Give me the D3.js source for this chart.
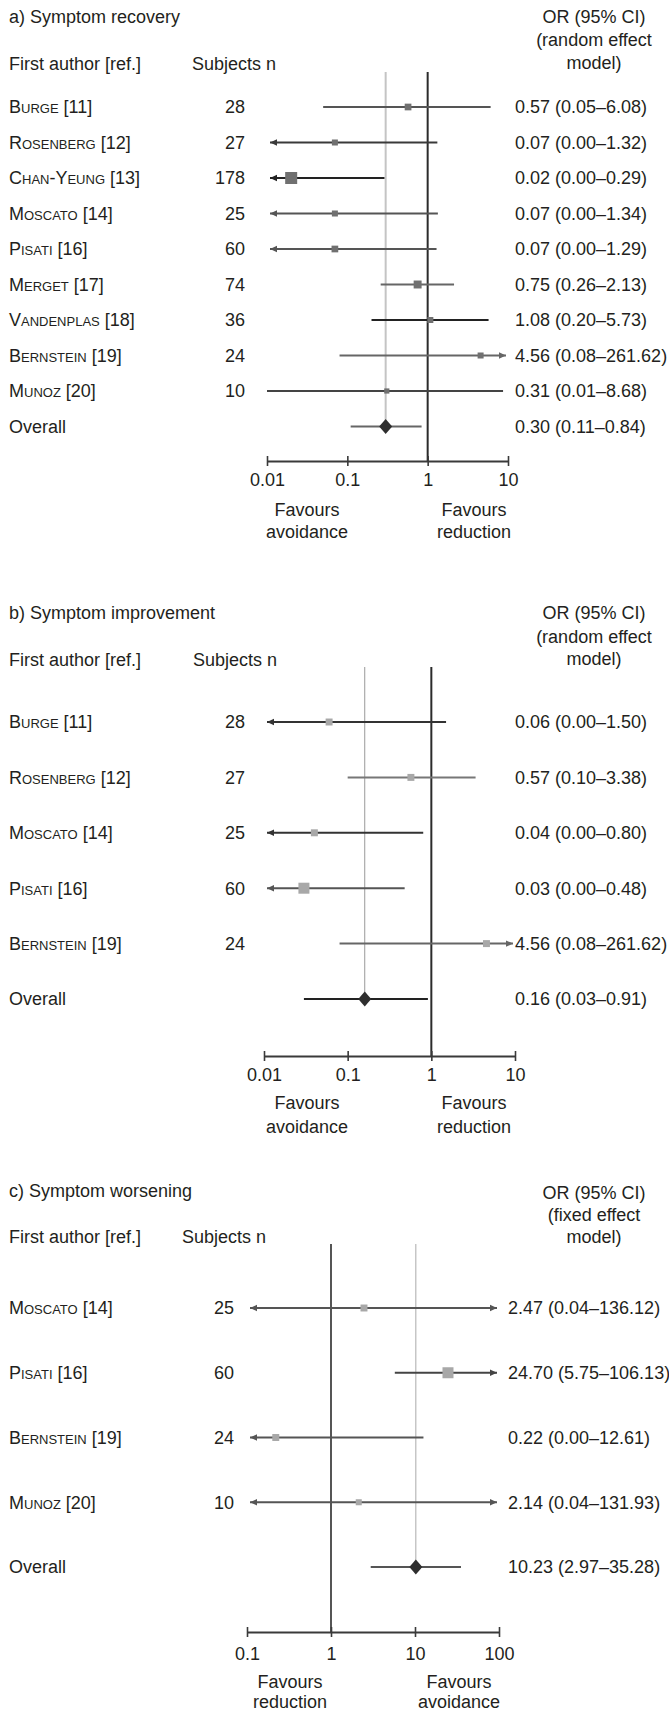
<!DOCTYPE html>
<html><head><meta charset="utf-8">
<script src="https://cdn.jsdelivr.net/npm/d3@7"></script>
<style>
body{margin:0;background:#fff}
svg text{font-family:"Liberation Sans",Arial,Helvetica,sans-serif;font-size:18px;fill:#231f20}
.sc{font-variant:small-caps}
</style></head><body>
<svg id="chart" width="669" height="1713"></svg>
<script>
// ---------- DATA ----------
// a) Symptom recovery
const authorsA = ["Burge","Rosenberg","Chan-Yeung","Moscato","Pisati","Merget","Vandenplas","Bernstein","Munoz"];
const refsA    = [11,12,13,14,16,17,18,19,20];
const subjectsA = [28,27,178,25,60,74,36,24,10];
const orA  = [0.57,0.07,0.02,0.07,0.07,0.75,1.08,4.56,0.31];
const loA  = [0.05,0.00,0.00,0.00,0.00,0.26,0.20,0.08,0.01];
const hiA  = [6.08,1.32,0.29,1.34,1.29,2.13,5.73,261.62,8.68];
const weightA = [5,4,16,4,5,7,4,4,3];
const overallA = {or:0.30, lo:0.11, hi:0.84};
const ticksA = [0.01,0.1,1,10];
const tickLabelsA = ["0.01","0.1","1","10"];

// b) Symptom improvement
const authorsB = ["Burge","Rosenberg","Moscato","Pisati","Bernstein"];
const refsB    = [11,12,14,16,19];
const subjectsB = [28,27,25,60,24];
const orB  = [0.06,0.57,0.04,0.03,4.56];
const loB  = [0.00,0.10,0.00,0.00,0.08];
const hiB  = [1.50,3.38,0.80,0.48,261.62];
const weightB = [20,20,20,50,20];
const overallB = {or:0.16, lo:0.03, hi:0.91};
const ticksB = [0.01,0.1,1,10];
const tickLabelsB = ["0.01","0.1","1","10"];

// c) Symptom worsening
const authorsC = ["Moscato","Pisati","Bernstein","Munoz"];
const refsC    = [14,16,19,20];
const subjectsC = [25,60,24,10];
const orC  = [2.47,24.70,0.22,2.14];
const loC  = [0.04,5.75,0.00,0.04];
const hiC  = [136.12,106.13,12.61,131.93];
const weightC = [20,50,20,15];
const overallC = {or:10.23, lo:2.97, hi:35.28};
const ticksC = [0.1,1,10,100];
const tickLabelsC = ["0.1","1","10","100"];

// ---------- PANELS ----------
const panels = [
  {
    data:{authors:authorsA, refs:refsA, n:subjectsA, or:orA, lo:loA, hi:hiA, w:weightA, overall:overallA, ticks:ticksA, tickLabels:tickLabelsA},
    title:"a) Symptom recovery",
    header:["OR (95% CI)","(random effect","model)"],
    favL:["Favours","avoidance"], favR:["Favours","reduction"],
    L:{x0:267,x1:508,yFirst:107,yLast:426.5,titleY:17,headY:[17,40,63],colY:64,subjX:192,nX:245,rX:515,headX:594,
       vTop:72,axisY:461,tickLabelY:480,favY:[510,532],favLX:307,favRX:474,maxSq:12,
       sqFill:"#707070",refStroke:"#c4c4c4",refWidth:2,oneWidth:2,
       shades:["#555","#3a3a3a","#222","#555","#555","#666","#222","#666","#444"],overallShade:"#666"}
  },
  {
    data:{authors:authorsB, refs:refsB, n:subjectsB, or:orB, lo:loB, hi:hiB, w:weightB, overall:overallB, ticks:ticksB, tickLabels:tickLabelsB},
    title:"b) Symptom improvement",
    header:["OR (95% CI)","(random effect","model)"],
    favL:["Favours","avoidance"], favR:["Favours","reduction"],
    L:{x0:264,x1:515,yFirst:722,yLast:999,titleY:613,headY:[613,637,659],colY:660,subjX:193,nX:245,rX:515,headX:594,
       vTop:667,axisY:1056,tickLabelY:1075,favY:[1103,1127],favLX:307,favRX:474,maxSq:11,
       sqFill:"#a8a8a8",refStroke:"#999",refWidth:1,oneWidth:2,
       shades:["#333","#777","#333","#555","#666"],overallShade:"#222"}
  },
  {
    data:{authors:authorsC, refs:refsC, n:subjectsC, or:orC, lo:loC, hi:hiC, w:weightC, overall:overallC, ticks:ticksC, tickLabels:tickLabelsC},
    title:"c) Symptom worsening",
    header:["OR (95% CI)","(fixed effect","model)"],
    favL:["Favours","reduction"], favR:["Favours","avoidance"],
    L:{x0:247,x1:499,yFirst:1308,yLast:1567,titleY:1191,headY:[1193,1215,1237],colY:1237,subjX:182,nX:234,rX:508,headX:594,
       vTop:1244,axisY:1632,tickLabelY:1654,favY:[1682,1702],favLX:290,favRX:459,maxSq:11,
       sqFill:"#a8a8a8",refStroke:"#aaa",refWidth:1,oneWidth:1.6,
       shades:["#555","#444","#555","#555"],overallShade:"#555"}
  }
];

const svg = d3.select("#chart");
const fmt = d3.format(".2f");
const ciText = (o,l,h) => `${fmt(o)} (${fmt(l)}\u2013${fmt(h)})`;

function drawPanel(P){
  const D = P.data, L = P.L;
  const g = svg.append("g");
  const dMin = D.ticks[0], dMax = D.ticks[D.ticks.length-1];
  const x = d3.scaleLog().domain([dMin,dMax]).range([L.x0,L.x1]);
  const y = d3.scalePoint().domain(d3.range(D.authors.length+1)).range([L.yFirst,L.yLast]);
  const sq = d3.scaleSqrt().domain([0,d3.max(D.w)]).range([0,L.maxSq]);
  const overallIdx = D.authors.length;

  // titles / headers
  g.append("text").attr("x",9).attr("y",L.titleY).attr("dy","0.35em").text(P.title);
  P.header.forEach((h,i)=>g.append("text").attr("x",L.headX).attr("y",L.headY[i]).attr("dy","0.35em").attr("text-anchor","middle").text(h));
  g.append("text").attr("x",9).attr("y",L.colY).attr("dy","0.35em").text("First author [ref.]");
  g.append("text").attr("x",L.subjX).attr("y",L.colY).attr("dy","0.35em").text("Subjects n");

  // reference lines
  g.append("line").attr("x1",x(D.overall.or)).attr("x2",x(D.overall.or))
    .attr("y1",L.vTop).attr("y2",y(overallIdx))
    .attr("stroke",L.refStroke).attr("stroke-width",L.refWidth);
  g.append("line").attr("x1",x(1)).attr("x2",x(1))
    .attr("y1",L.vTop).attr("y2",L.axisY)
    .attr("stroke","#2b2b2b").attr("stroke-width",L.oneWidth);

  // study rows
  D.authors.forEach((a,i)=>{
    const yy = y(i);
    const t = g.append("text").attr("x",9).attr("y",yy).attr("dy","0.35em");
    t.append("tspan").attr("class","sc").text(a);
    t.append("tspan").text(` [${D.refs[i]}]`);
    g.append("text").attr("x",L.nX).attr("y",yy).attr("dy","0.35em").attr("text-anchor","end").text(D.n[i]);

    const shade = L.shades[i];
    const leftArrow = D.lo[i] < dMin, rightArrow = D.hi[i] > dMax;
    const xa = leftArrow ? x(dMin)+3 : x(D.lo[i]);
    const xb = rightArrow ? x(dMax)-2 : x(D.hi[i]);
    g.append("line").attr("x1",xa).attr("x2",xb).attr("y1",yy).attr("y2",yy)
      .attr("stroke",shade).attr("stroke-width",2);
    if(leftArrow){
      g.append("path").attr("d",`M${xa},${yy}L${xa+7},${yy-3.2}L${xa+7},${yy+3.2}Z`).attr("fill",shade);
    }
    if(rightArrow){
      g.append("path").attr("d",`M${xb},${yy}L${xb-7},${yy-3.2}L${xb-7},${yy+3.2}Z`).attr("fill",shade);
    }
    const s = sq(D.w[i]);
    g.append("rect").attr("x",x(D.or[i])-s/2).attr("y",yy-s/2).attr("width",s).attr("height",s)
      .attr("fill",L.sqFill);
    g.append("text").attr("x",L.rX).attr("y",yy).attr("dy","0.35em").text(ciText(D.or[i],D.lo[i],D.hi[i]));
  });

  // overall
  const yo = y(overallIdx);
  g.append("text").attr("x",9).attr("y",yo).attr("dy","0.35em").text("Overall");
  g.append("line").attr("x1",x(D.overall.lo)).attr("x2",x(D.overall.hi)).attr("y1",yo).attr("y2",yo)
    .attr("stroke",L.overallShade).attr("stroke-width",2);
  const xo = x(D.overall.or);
  g.append("path").attr("d",`M${xo},${yo-7.5}L${xo+6.5},${yo}L${xo},${yo+7.5}L${xo-6.5},${yo}Z`).attr("fill","#2e2e2e");
  g.append("text").attr("x",L.rX).attr("y",yo).attr("dy","0.35em").text(ciText(D.overall.or,D.overall.lo,D.overall.hi));

  // axis
  const ax = g.append("g").attr("transform",`translate(0,${L.axisY})`)
    .call(d3.axisBottom(x).tickValues(D.ticks).tickFormat((d,i)=>D.tickLabels[i]).tickSize(0).tickSizeOuter(0));
  ax.attr("font-size",null).attr("font-family",null);
  ax.select(".domain").attr("stroke","#3a3a3a").attr("stroke-width",2);
  ax.selectAll(".tick line").attr("y1",-5).attr("y2",5).attr("stroke","#3a3a3a").attr("stroke-width",1.6);
  ax.selectAll(".tick text").attr("y",L.tickLabelY-L.axisY).attr("dy","0.35em").attr("fill","#231f20");

  // favours labels
  [[P.favL,L.favLX],[P.favR,L.favRX]].forEach(([lines,xx])=>{
    lines.forEach((s,k)=>g.append("text").attr("x",xx).attr("y",L.favY[k]).attr("dy","0.35em")
      .attr("text-anchor","middle").text(s));
  });
}

panels.forEach(drawPanel);
</script>
</body></html>
